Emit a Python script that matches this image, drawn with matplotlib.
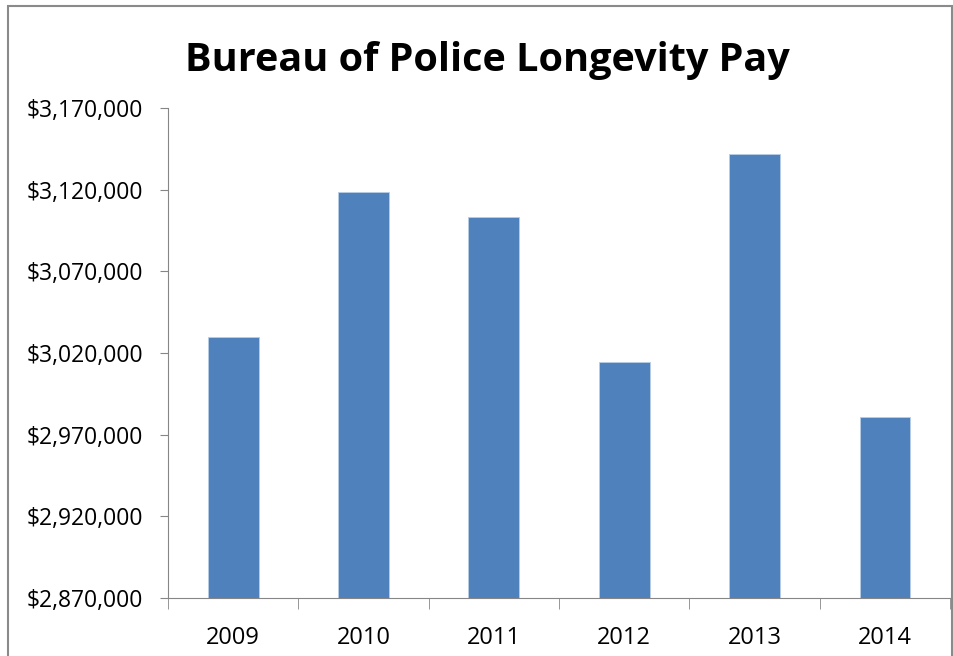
import matplotlib.pyplot as plt
from matplotlib.patches import Rectangle
from matplotlib.ticker import FuncFormatter

years = ["2009", "2010", "2011", "2012", "2013", "2014"]
pay = [3029700, 3119000, 3103300, 3014700, 3141700, 2981100]
y_ticks = [2870000, 2920000, 2970000, 3020000, 3070000, 3120000, 3170000]

plt.rcParams["font.family"] = ["Open Sans", "DejaVu Sans"]

fig = plt.figure(figsize=(9.54, 6.56), dpi=100)
ax = fig.add_axes([0.176, 0.0884, 0.82, 0.7466])

# chart frame like the original screenshot
fig.patches.append(Rectangle((8 / 954, -0.01), 944 / 954, 1 - 6 / 656 + 0.01,
                             transform=fig.transFigure, fill=False,
                             edgecolor="#8a8a8a", linewidth=1.5))

x = range(len(years))
ax.bar(x, pay, width=0.39, color="#4f81bd", edgecolor="#b9cde5", linewidth=0.6)

ax.set_xlim(-0.5, len(years) - 0.5)
ax.set_ylim(y_ticks[0], y_ticks[-1])
ax.set_yticks(y_ticks)
ax.yaxis.set_major_formatter(FuncFormatter(lambda v, p: f"${v:,.0f}"))
ax.set_xticks(x)
ax.set_xticklabels(years)
ax.set_xticks([i - 0.5 for i in range(len(years) + 1)], minor=True)

for s in ["top", "right"]:
    ax.spines[s].set_visible(False)
for s in ["left", "bottom"]:
    ax.spines[s].set_color("#868686")

ax.tick_params(axis="y", length=6, color="#868686", labelsize=16.5, pad=12)
ax.tick_params(axis="x", which="major", length=0, labelsize=17, pad=20)
ax.tick_params(axis="x", which="minor", length=8, color="#868686")

fig.text(0.511, 0.908, "Bureau of Police Longevity Pay", ha="center", va="center",
         fontsize=28.5, fontweight="bold")

fig.savefig("out.png", dpi=100)
